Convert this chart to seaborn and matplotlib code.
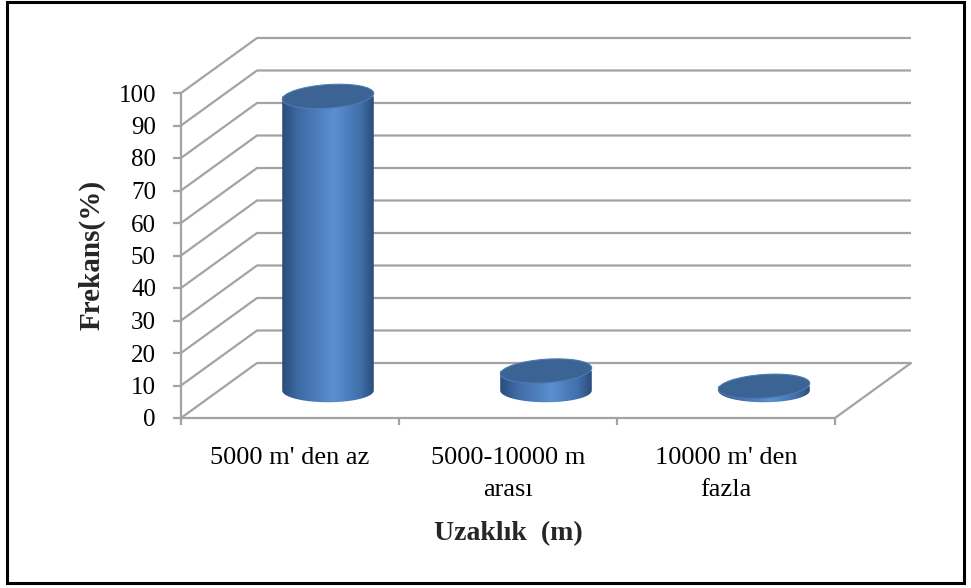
import numpy as np
import matplotlib
matplotlib.use("Agg")
import matplotlib.pyplot as plt
import seaborn as sns
import pandas as pd
from matplotlib.patches import Ellipse, Rectangle, PathPatch
from matplotlib.path import Path
from matplotlib.transforms import ScaledTranslation
from matplotlib.colors import LinearSegmentedColormap

# ---- data ----
categories = ["5000 m' den az", "5000-10000 m\narası", "10000 m' den\nfazla"]
values = [90.5, 6.0, 1.3]
y_ticks = list(range(0, 101, 10))
x_label = "Uzaklık  (m)"
y_label = "Frekans(%)"

sns.set_theme(style="white")
plt.rcParams['font.family'] = ['Liberation Serif', 'DejaVu Serif']

W, H, DPI = 971, 588, 100
fig = plt.figure(figsize=(W / DPI, H / DPI), dpi=DPI)
fig.patch.set_facecolor("white")
ax = fig.add_axes([181 / W, (H - 418) / H, 654 / W, 325 / H])

df = pd.DataFrame({"cat": categories, "val": values})
sns.barplot(data=df, x="cat", y="val", width=0.42, color="#4a7ebb", ax=ax, zorder=3)
ax.set_xlim(-0.5, 2.5)
ax.set_ylim(0, 100)
ax.set_autoscale_on(False)
ax.set_xlabel("")
ax.set_ylabel("")
ax.patch.set_alpha(0)

grid_c = "#a3a3a3"
LW = 1.6
dx_px, dy_px = 76, 55
PX_X = 654 / 3      # pixels per category unit
PX_Y = 325 / 100    # pixels per value unit
DX = dx_px / PX_X
DY = dy_px / PX_Y

# walls & floor
for v in y_ticks:
    ax.plot([-0.5, -0.5 + DX, 2.5 + DX], [v, v + DY, v + DY], color=grid_c, lw=LW,
            clip_on=False, zorder=1, solid_capstyle="butt")
ax.plot([-0.5, 2.5, 2.5 + DX], [0, 0, DY], color=grid_c, lw=LW, clip_on=False, zorder=1)

for s in ["top", "right", "bottom"]:
    ax.spines[s].set_visible(False)
ax.spines["left"].set_color(grid_c)
ax.spines["left"].set_linewidth(LW)

ax.set_yticks(y_ticks)
ax.set_yticklabels([str(v) for v in y_ticks])
ax.tick_params(axis="y", left=True, length=6, width=LW, color=grid_c, pad=12,
               labelsize=18, labelcolor="black")
ax.set_xticks([0, 1, 2])
ax.set_xticklabels(categories)
ax.tick_params(axis="x", which="major", bottom=False, length=0, pad=21,
               labelsize=19, labelcolor="black")
ax.set_xticks([-0.5, 0.5, 1.5, 2.5], minor=True)
ax.tick_params(axis="x", which="minor", bottom=True, length=5, width=LW, color=grid_c)
for tl in ax.get_xticklabels():
    tl.set_linespacing(1.55)

# cylinders (placed at mid depth)
off = ScaledTranslation(dx_px / 2 / DPI, dy_px / 2 / DPI, fig.dpi_scale_trans)
trans_off = ax.transData + off
cmap = LinearSegmentedColormap.from_list(
    "cyl", [(0.0, "#2a4c78"), (0.18, "#3e6ba5"), (0.57, "#5b8fd0"),
            (0.85, "#4170ab"), (1.0, "#2b4d7a")])
grad = np.linspace(0, 1, 256).reshape(1, -1)
ANG = 4
EH_PX = 23.5
t = np.linspace(np.pi, 2 * np.pi, 60)

for p in list(ax.patches):
    x0, w, h = p.get_x(), p.get_width(), p.get_height()
    xc = x0 + w / 2
    EW = w * PX_X / DPI
    p.set_transform(trans_off)
    p.set_linewidth(0)
    p.set_facecolor("none")
    p.set_clip_on(False)
    # side silhouette: bar rectangle with rounded (elliptic) bottom
    arc_x = xc + (w / 2) * np.cos(t)
    arc_y = (EH_PX / 2 / PX_Y) * np.sin(t)
    verts = [(x0, h)] + list(zip(arc_x, arc_y)) + [(x0 + w, h), (x0, h)]
    codes = [Path.MOVETO] + [Path.LINETO] * (len(verts) - 2) + [Path.CLOSEPOLY]
    side = PathPatch(Path(verts, codes), transform=trans_off, facecolor="none",
                     lw=0, zorder=2)
    ax.add_patch(side)
    side.set_clip_on(False)
    im = ax.imshow(grad, cmap=cmap, extent=[x0, x0 + w, -8, h], aspect="auto",
                   transform=trans_off, zorder=3, interpolation="bilinear")
    im.set_clip_path(side)
    im.set_clip_box(None)
    ell_top_tr = fig.dpi_scale_trans + ScaledTranslation(xc, h, ax.transData) + off
    e_top = Ellipse((0, 0), EW, EH_PX / DPI, angle=ANG, transform=ell_top_tr,
                    facecolor="#3b6393", edgecolor="#4d7bb3", lw=0.8, zorder=4)
    ax.add_patch(e_top)
    e_top.set_clip_on(False)

ax.set_xlim(-0.5, 2.5)
ax.set_ylim(0, 100)

fig.text(92 / W, 1 - 255 / H, y_label, rotation=90, ha="center", va="center",
         fontsize=21, fontweight="bold")
fig.text(508 / W, 1 - 534 / H, x_label, ha="center", va="center",
         fontsize=20, fontweight="bold")

fig.patches.append(Rectangle((7 / W, (H - 583) / H), (964 - 7) / W, (583 - 2) / H,
                             transform=fig.transFigure, fill=False, lw=2.2,
                             edgecolor="black"))

fig.savefig("out.png", dpi=DPI)
